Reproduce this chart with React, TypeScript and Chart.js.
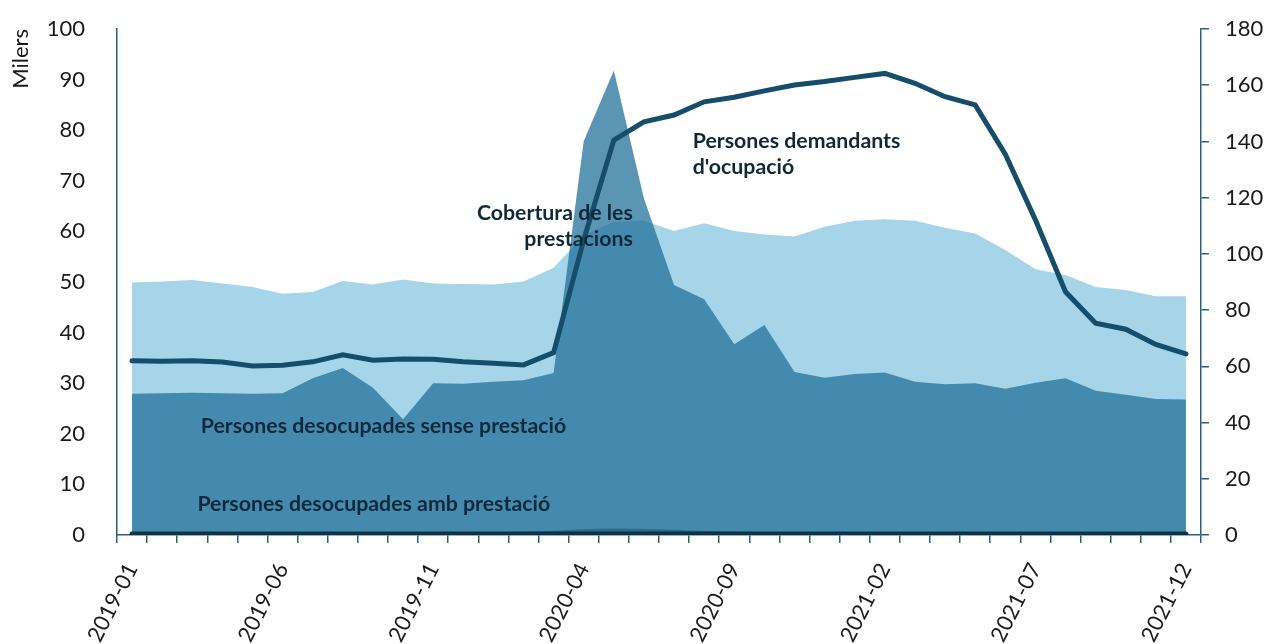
import React, { useEffect, useRef } from "react";
import { Chart, registerables } from "chart.js";

Chart.register(...registerables);

// ---- Data ----
const months = [
  "2019-01", "2019-02", "2019-03", "2019-04", "2019-05", "2019-06",
  "2019-07", "2019-08", "2019-09", "2019-10", "2019-11", "2019-12",
  "2020-01", "2020-02", "2020-03", "2020-04", "2020-05", "2020-06",
  "2020-07", "2020-08", "2020-09", "2020-10", "2020-11", "2020-12",
  "2021-01", "2021-02", "2021-03", "2021-04", "2021-05", "2021-06",
  "2021-07", "2021-08", "2021-09", "2021-10", "2021-11", "2021-12",
];

const shownTickLabels = [
  "2019-01", "2019-06", "2019-11", "2020-04",
  "2020-09", "2021-02", "2021-07", "2021-12",
];

// Light area (left axis, milers)
const coberturaPrestacions = [
  49.9, 50.1, 50.4, 49.7, 49.0, 47.7, 48.0, 50.2, 49.5, 50.5, 49.7, 49.6,
  49.5, 50.1, 52.8, 59.2, 61.9, 62.1, 60.1, 61.6, 60.1, 59.4, 59.0, 60.9,
  62.1, 62.4, 62.1, 60.7, 59.6, 56.3, 52.5, 51.4, 49.0, 48.4, 47.2, 47.2,
];

// Dark area (left axis, milers)
const desocupadesSensePrestacio = [
  27.9, 28.0, 28.1, 28.0, 27.9, 28.0, 31.0, 33.0, 29.1, 22.9, 30.0, 29.9,
  30.3, 30.6, 32.0, 77.8, 91.8, 66.5, 49.4, 46.6, 37.7, 41.5, 32.2, 31.1,
  31.8, 32.1, 30.3, 29.8, 30.0, 28.9, 30.1, 31.0, 28.5, 27.7, 26.9, 26.8,
];

// Bottom thin area (left axis, milers)
const desocupadesAmbPrestacio = [
  0.6, 0.6, 0.6, 0.6, 0.6, 0.6, 0.6, 0.6, 0.6, 0.6, 0.6, 0.6,
  0.6, 0.65, 0.85, 1.15, 1.3, 1.2, 1.05, 0.8, 0.7, 0.6, 0.6, 0.6,
  0.6, 0.6, 0.6, 0.6, 0.6, 0.6, 0.6, 0.6, 0.6, 0.6, 0.6, 0.6,
];

// Bottom dark band (left axis, milers)
const ambPrestacioBase = [
  0.2, 0.2, 0.2, 0.2, 0.2, 0.2, 0.2, 0.2, 0.2, 0.2, 0.2, 0.2,
  0.2, 0.2, 0.2, 0.2, 0.2, 0.2, 0.2, 0.2, 0.2, 0.2, 0.2, 0.2,
  0.2, 0.2, 0.2, 0.2, 0.2, 0.2, 0.2, 0.2, 0.2, 0.2, 0.2, 0.2,
];

// Line (right axis)
const demandantsOcupacio = [
  62.0, 61.8, 62.0, 61.5, 60.1, 60.4, 61.6, 64.1, 62.2, 62.6, 62.5, 61.6,
  61.1, 60.5, 64.9, 105.0, 140.5, 147.0, 149.4, 154.1, 155.7, 158.0, 160.1, 161.3,
  162.8, 164.2, 160.7, 155.9, 153.0, 135.5, 112.1, 86.5, 75.3, 73.2, 67.8, 64.4,
];

// Annotations anchored in data coordinates (category index, left-axis value)
const notes = [
  { lines: ["Persones demandants", "d'ocupació"], x: 18.62, y: 76.5, align: "left" },
  { lines: ["Cobertura de les", "prestacions"], x: 16.63, y: 62.25, align: "right" },
  { lines: ["Persones desocupades sense prestació"], x: 2.28, y: 20.2, align: "left" },
  { lines: ["Persones desocupades amb prestació"], x: 2.17, y: 4.8, align: "left" },
];

const FONT = "Lato, 'Noto Sans', sans-serif";
const AXIS_COLOR = "#2a5f7e";
const TEXT_COLOR = "#1a1a1a";

const notesPlugin = {
  id: "notes",
  afterDatasetsDraw(chart: any) {
    const { ctx, scales } = chart;
    const xs = scales.x;
    const ys = scales.y;
    ctx.save();
    ctx.font = `bold 21.3px ${FONT}`;
    ctx.fillStyle = "#10293a";
    ctx.textBaseline = "alphabetic";
    for (const n of notes) {
      const px = xs.left + (xs.width / months.length) * (n.x + 0.5);
      const py = ys.getPixelForValue(n.y);
      ctx.textAlign = n.align;
      n.lines.forEach((t, i) => ctx.fillText(t, px, py + i * 25.6));
    }
    ctx.restore();
  },
};

export default function App() {
  const canvasRef = useRef<HTMLCanvasElement | null>(null);

  useEffect(() => {
    if (!canvasRef.current) return;
    const chart = new Chart(canvasRef.current, {
      type: "line",
      data: {
        labels: months,
        datasets: [
          {
            label: "Persones demandants d'ocupació",
            data: demandantsOcupacio,
            yAxisID: "y1",
            borderColor: "#154d6b",
            borderWidth: 5,
            borderCapStyle: "round",
            borderJoinStyle: "miter",
            fill: false,
            pointRadius: 0,
            tension: 0,
            order: 0,
          },
          {
            label: "base",
            data: ambPrestacioBase,
            yAxisID: "y",
            borderColor: "#0e3246",
            borderWidth: 5,
            borderCapStyle: "round",
            fill: false,
            pointRadius: 0,
            tension: 0,
            order: 1,
          },
          {
            label: "Persones desocupades amb prestació",
            data: desocupadesAmbPrestacio,
            yAxisID: "y",
            borderWidth: 0,
            backgroundColor: "#2d6a8c",
            fill: "origin",
            pointRadius: 0,
            tension: 0.3,
            order: 2,
          },
          {
            label: "Persones desocupades sense prestació",
            data: desocupadesSensePrestacio,
            yAxisID: "y",
            borderWidth: 0,
            backgroundColor: "rgba(30,110,152,0.73)",
            fill: "origin",
            pointRadius: 0,
            tension: 0,
            order: 3,
          },
          {
            label: "Cobertura de les prestacions",
            data: coberturaPrestacions,
            yAxisID: "y",
            borderWidth: 0,
            backgroundColor: "#a6d5ea",
            fill: "origin",
            pointRadius: 0,
            tension: 0,
            order: 4,
          },
        ],
      },
      options: {
        animation: false,
        responsive: true,
        maintainAspectRatio: false,
        layout: { padding: { top: 29, left: 0, right: 0, bottom: 0 } },
        plugins: {
          legend: { display: false },
          tooltip: { enabled: false },
        },
        scales: {
          x: {
            type: "category",
            offset: true,
            grid: {
              display: true,
              drawOnChartArea: false,
              drawTicks: true,
              tickLength: 8,
              offset: true,
              color: AXIS_COLOR,
              lineWidth: 1.5,
            },
            border: { display: true, color: AXIS_COLOR, width: 1.5 },
            ticks: {
              autoSkip: false,
              minRotation: 63,
              maxRotation: 63,
              padding: 16,
              color: TEXT_COLOR,
              font: { family: FONT, size: 22 },
              callback: (_v: any, i: number) =>
                shownTickLabels.includes(months[i]) ? months[i] : "",
            },
            afterFit: (s: any) => {
              s.height = 109;
              s.paddingTop = 0;
              s.paddingBottom = 0;
            },
          },
          y: {
            position: "left",
            min: 0,
            max: 100,
            grid: { display: false },
            border: { display: true, color: AXIS_COLOR, width: 1.5 },
            ticks: {
              stepSize: 10,
              padding: 24,
              color: TEXT_COLOR,
              font: { family: FONT, size: 22 },
            },
            title: {
              display: true,
              text: "Milers",
              align: "end",
              color: TEXT_COLOR,
              padding: { top: 8, bottom: 0 },
              font: { family: FONT, size: 22 },
            },
            afterFit: (s: any) => {
              s.width = 117;
              s.paddingTop = 0;
              s.paddingBottom = 0;
            },
          },
          y1: {
            position: "right",
            min: 0,
            max: 180,
            grid: {
              display: true,
              drawOnChartArea: false,
              drawTicks: true,
              tickLength: 8,
              color: AXIS_COLOR,
              lineWidth: 1.5,
            },
            border: { display: true, color: AXIS_COLOR, width: 1.5 },
            ticks: {
              stepSize: 20,
              padding: 16,
              color: TEXT_COLOR,
              font: { family: FONT, size: 22 },
            },
            afterFit: (s: any) => {
              s.width = 68;
              s.paddingTop = 0;
              s.paddingBottom = 0;
            },
          },
        },
      } as any,
      plugins: [notesPlugin],
    });
    return () => chart.destroy();
  }, []);

  return (
    <div style={{ position: "fixed", left: 0, top: 0, width: 1269, height: 644, background: "#fff" }}>
      <canvas ref={canvasRef} style={{ display: "block" }} />
    </div>
  );
}
